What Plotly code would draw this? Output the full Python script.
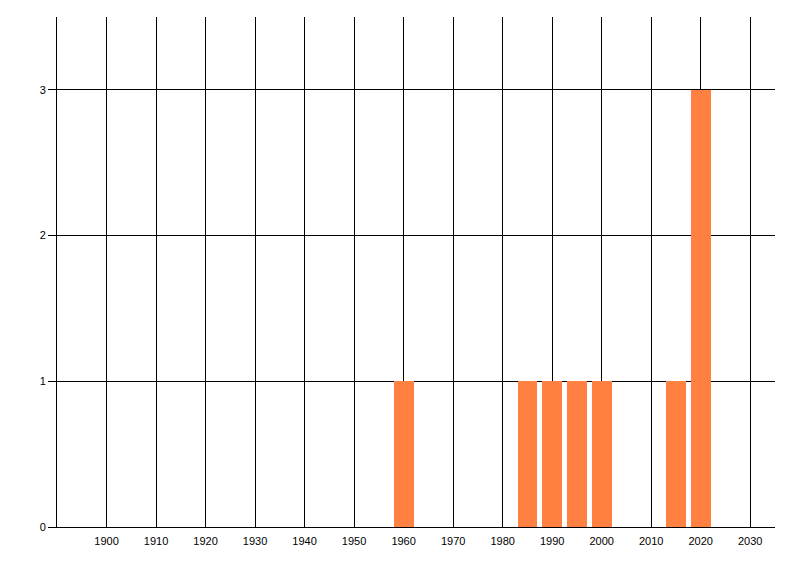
import plotly.graph_objects as go

years = [1960, 1985, 1990, 1995, 2000, 2015, 2020]
counts = [1, 1, 1, 1, 1, 1, 3]
x_ticks = list(range(1900, 2031, 10))
y_ticks = [0, 1, 2, 3]

fig = go.Figure()
fig.add_trace(go.Bar(
    x=years, y=counts, width=4,
    marker=dict(color="#FF8040", line=dict(width=0)),
    hoverinfo="x+y",
))

# page body has an 8px default margin, so the figure is offset by 8px
fig.update_layout(
    width=792, height=568,
    margin=dict(l=49, r=25, t=9, b=49),
    plot_bgcolor="white", paper_bgcolor="white",
    showlegend=False,
    font=dict(family="Liberation Sans, Arial, sans-serif", size=11, color="black"),
    bargap=0,
)
fig.update_xaxes(
    range=[1890, 2035], tickvals=x_ticks, ticktext=[str(v) for v in x_ticks],
    showgrid=True, gridcolor="black", gridwidth=1,
    showline=True, linecolor="black", linewidth=1,
    ticks="outside", ticklen=4, tickcolor="rgba(0,0,0,0)",
    zeroline=False,
)
fig.update_yaxes(
    range=[0, 3.5], tickvals=y_ticks,
    showgrid=True, gridcolor="black", gridwidth=1,
    showline=True, linecolor="black", linewidth=1,
    ticks="outside", ticklen=8, tickcolor="black",
    zeroline=False,
)

fig.write_html("out.html")
